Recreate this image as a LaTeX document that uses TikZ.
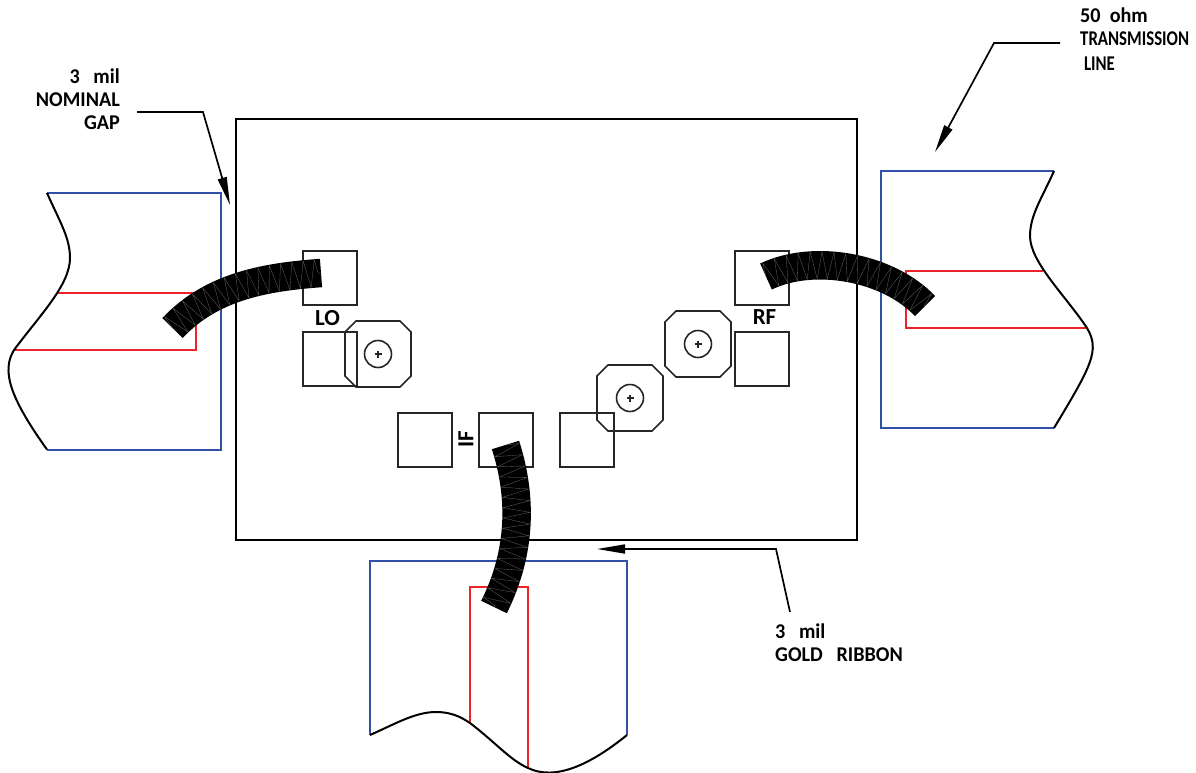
\documentclass[tikz,border=0pt]{standalone}
\usepackage{fontspec}
\setmainfont{Carlito}
\newfontfamily\notefont[FakeStretch = 0.96]{Carlito}
\newfontfamily\linefont[FakeStretch = 0.8]{Carlito}
\usetikzlibrary{arrows.meta,decorations.pathmorphing}
\definecolor{boxblue}{RGB}{50,80,165}
\definecolor{stripred}{RGB}{235,35,45}
\tikzset{
    edgeline/.style = {black, line width = 2pt},
    padline/.style = {black!85, line width = 1.6pt},
    stripline/.style = {stripred, line width = 2pt},
    boxline/.style = {boxblue, line width = 2pt},
    leader/.style = {black, line width = 1.7pt, -{Triangle[length = 28pt, width = 9pt]}},
    note/.style = {font = \notefont\bfseries\fontsize{21}{23}\selectfont, inner sep = 0pt},
    portname/.style = {font = \bfseries\fontsize{23}{23}\selectfont, inner sep = 0pt},
    pad/.pic = {\draw[padline] (0, 0) rectangle (54, 54);},
    via/.pic = {
        \draw[padline] (-22, -33) -- (22, -33) -- (33, -22) -- (33, 22) -- (22, 33) -- (-22, 33) -- (-33, 22) -- (-33, -22) -- cycle;
        \draw[padline] (0, 0) circle (13.5);
        \draw[padline] (-3.5, 0) -- (3.5, 0) (0, -3.5) -- (0, 3.5);
    },
}
\newcommand{\ribbon}[1]{
    \draw[black, line width = 28.5pt] #1;
    \draw[black!60, line width = 0.3pt, decorate, decoration = {zigzag, amplitude = 13.5pt, segment length = 11pt}] #1;
}
\begin{document}
\begin{tikzpicture}[x = 1pt, y = -1pt]
    \useasboundingbox (0, 0) rectangle (1196, 772);

    % carrier
    \draw[edgeline] (236, 119) rectangle (857, 540);

    % LO line
    \draw[stripline] (58, 292.5) -- (195.5, 292.5) -- (195.5, 350) -- (14, 350);
    \draw[boxline] (47, 193) -- (220.5, 193) -- (220.5, 449.5) -- (47, 449.5);
    \draw[edgeline] (47, 193) .. controls (60, 222) and (70, 238) .. (70, 258)
        .. controls (70, 285) and (40, 315) .. (14, 350)
        .. controls (2, 370) and (8, 395) .. (47, 449.5);

    % RF line
    \draw[stripline] (1043, 270.5) -- (906, 270.5) -- (906, 328) -- (1087, 328);
    \draw[boxline] (1054, 171) -- (880.5, 171) -- (880.5, 428) -- (1054, 428);
    \draw[edgeline] (1054, 171) .. controls (1042, 198) and (1030, 215) .. (1030, 236)
        .. controls (1030, 262) and (1065, 295) .. (1087, 328)
        .. controls (1100, 350) and (1092, 365) .. (1054, 428);

    % IF line
    \draw[stripline] (470, 723) -- (470, 587) -- (528, 587) -- (528, 768);
    \draw[boxline] (370, 735) -- (370, 561) -- (627, 561) -- (627, 735);
    \draw[edgeline] (370, 735) .. controls (395, 724) and (415, 712) .. (436, 712)
        .. controls (455, 712) and (465, 720) .. (470, 723)
        .. controls (495, 742) and (510, 760) .. (528, 768)
        .. controls (555, 781) and (590, 765) .. (627, 735);

    % pads
    \foreach \padx/\pady in {303/251, 303/332, 735/251, 735/332, 398/413, 479/413, 560/413}
        \pic at (\padx, \pady) {pad};

    % vias
    \foreach \viax/\viay in {378/354, 698/344, 630/398}
        \pic at (\viax, \viay) {via};

    % ribbons
    \ribbon{(172.5, 328) .. controls (212, 286) and (266, 277) .. (321, 273)}
    \ribbon{(766, 276.5) .. controls (814, 253.5) and (888, 267) .. (925, 306)}
    \ribbon{(505.5, 445) .. controls (522.5, 498) and (521, 553) .. (494, 607)}

    % port names
    \node[portname] (lo) at (327.5, 318) {LO};
    \node[portname] (rf) at (764.5, 317) {RF};
    \node[portname, rotate = 90] (if) at (466, 439) {IF};

    % notes
    \node[note, align = right, anchor = north east] (gapnote) at (120, 69) {3\ \ \ mil\\NOMINAL\\GAP};
    \node[note, align = left, anchor = north west] (linenote) at (1080, 8) {50\ \ ohm\\{\linefont\bfseries TRANSMISSION}\\[2pt]{\linefont\bfseries\ LINE}};
    \node[note, align = left, anchor = north west] (ribbonnote) at (775, 624) {3\ \ \ mil\\GOLD\ \ \ RIBBON};

    % leaders
    \coordinate (gaptip) at (230, 205);
    \coordinate (linetip) at (935, 152);
    \coordinate (ribbontip) at (597, 549);
    \draw[leader] (137, 112) -- (203, 112) -- (gaptip);
    \draw[leader] (1060, 43) -- (994, 43) -- (linetip);
    \draw[leader] (790, 612) -- (776, 549) -- (ribbontip);
\end{tikzpicture}
\end{document}
